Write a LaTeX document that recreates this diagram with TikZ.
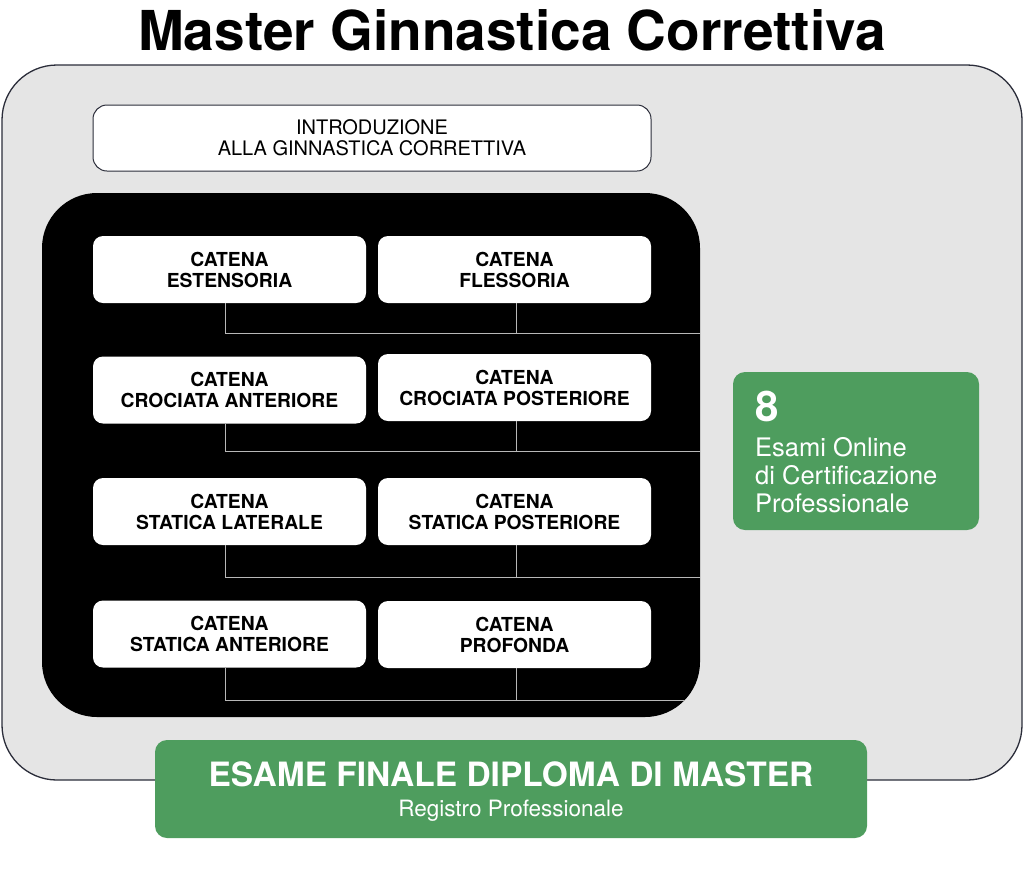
\documentclass[tikz,border=0pt]{standalone}
\usepackage{fontspec}
\setmainfont{TeX Gyre Heros}
\usetikzlibrary{positioning}

\definecolor{panelgrey}{HTML}{E5E5E5}
\definecolor{framegrey}{HTML}{2B2D3A}
\definecolor{wiregrey}{HTML}{B8B8B8}
\definecolor{examgreen}{HTML}{4E9D5E}

\begin{document}
\begin{tikzpicture}
	[x=1pt,y=-1pt,
		chain/.style={fill=white,rounded corners=10pt,minimum width=273pt,minimum height=67pt,align=center,inner sep=0pt,
			font=\fontsize{19.3}{21}\selectfont\bfseries},
		wire/.style={draw=wiregrey,line width=0.9pt},
		greenbox/.style={fill=examgreen,rounded corners=12pt,text=white,inner sep=0pt}]

	\useasboundingbox (0,0) rectangle (1024,884);

	% frame and panels
	\node[draw=framegrey,line width=1.3pt,fill=panelgrey,rounded corners=55pt,minimum width=1020pt,minimum height=715pt,inner sep=0pt] (panel) at (512,422.5) {};
	\node[font=\fontsize{55}{58}\selectfont\bfseries] (title) at (512,30) {Master Ginnastica Correttiva};
	\node[draw=framegrey,line width=1pt,fill=white,rounded corners=14pt,minimum width=558pt,minimum height=66pt,align=center,inner sep=0pt,
		font=\fontsize{20}{21}\selectfont] (intro) at (372,138) {INTRODUZIONE\\ALLA GINNASTICA CORRETTIVA};
	\node[fill=black,rounded corners=55pt,minimum width=658pt,minimum height=524pt,inner sep=0pt] (blk) at (371,455) {};

	% chains
	\node[chain] (l1) at (229.5,269.5) {CATENA\\ESTENSORIA};
	\node[chain] (r1) at (514.5,269.5) {CATENA\\FLESSORIA};
	\node[chain] (l2) at (229.5,390) {CATENA\\CROCIATA ANTERIORE};
	\node[chain] (r2) at (514.5,387.5) {CATENA\\CROCIATA POSTERIORE};
	\node[chain] (l3) at (229.5,511.5) {CATENA\\STATICA LATERALE};
	\node[chain] (r3) at (514.5,511.5) {CATENA\\STATICA POSTERIORE};
	\node[chain] (l4) at (229.5,634) {CATENA\\STATICA ANTERIORE};
	\node[chain] (r4) at (514.5,634.5) {CATENA\\PROFONDA};

	\coordinate (e1) at (700,333);
	\coordinate (e2) at (700,451);
	\coordinate (e3) at (700,577);
	\coordinate (e4) at (700,700);

	\begin{scope}
		\clip[rounded corners=55pt] (blk.north west) rectangle (blk.south east);
		\foreach \i in {1,...,4} {
			\draw[wire] ([xshift=-4.5pt]l\i.south) |- (e\i);
			\draw[wire] ([xshift=2pt]r\i.south) -- ([xshift=2pt]r\i.south |- e\i);
		}
	\end{scope}

	% exams
	\node[greenbox,minimum width=246pt,minimum height=158pt] (online) at (856,451) {};
	\node[anchor=north west,text=white,align=left,inner sep=0pt,font=\fontsize{25.5}{28}\selectfont] (onlinetxt) at (755,391)
		{{\fontsize{42}{40}\selectfont\bfseries 8}\\[7pt]Esami Online\\di Certificazione\\Professionale};
	\node[greenbox,minimum width=712pt,minimum height=98pt] (final) at (511,789) {};
	\node[text=white,inner sep=0pt,font=\fontsize{33.5}{36}\selectfont\bfseries] (finaltxt) at (511,774) {ESAME FINALE DIPLOMA DI MASTER};
	\node[text=white,inner sep=0pt,font=\fontsize{22.5}{24}\selectfont,below=13pt of finaltxt] (register) {Registro Professionale};

\end{tikzpicture}
\end{document}
